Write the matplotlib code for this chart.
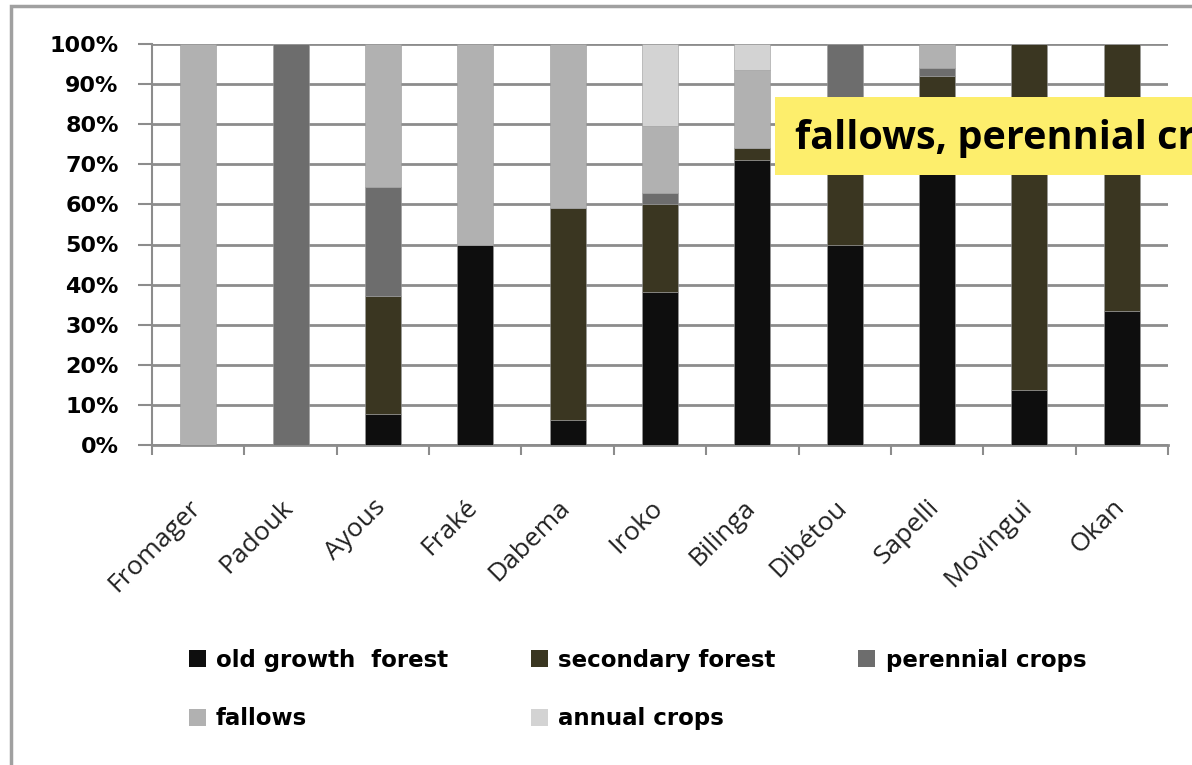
import numpy as np
import matplotlib
matplotlib.use("Agg")
import matplotlib.pyplot as plt
from matplotlib.patches import Rectangle
from matplotlib.transforms import ScaledTranslation

species = ["Fromager", "Padouk", "Ayous", "Fraké", "Dabema", "Iroko",
           "Bilinga", "Dibétou", "Sapelli", "Movingui", "Okan"]

# shares in % of each land-use type per species
old_growth = [0, 0, 7.7, 50, 6.2, 38.2, 71, 50, 86, 13.7, 33.3]
secondary = [0, 0, 29.5, 0, 52.8, 21.8, 3, 36, 6, 86.3, 66.7]
perennial = [0, 100, 27.2, 0, 0, 2.8, 0, 14, 2, 0, 0]
fallows = [100, 0, 35.6, 50, 41, 16.8, 19.4, 0, 6, 0, 0]
annual = [0, 0, 0, 0, 0, 20.4, 6.6, 0, 0, 0, 0]

series = [
    ("old growth  forest", old_growth, "#0e0e0e"),
    ("secondary forest", secondary, "#3a3621"),
    ("perennial crops", perennial, "#6d6d6d"),
    ("fallows", fallows, "#b1b1b1"),
    ("annual crops", annual, "#d3d3d3"),
]

fig = plt.figure(figsize=(11.92, 7.65), dpi=100)
fig.patches.append(Rectangle((11 / 1192, -0.1), 1.2, 1 - 6 / 765 + 0.1,
                             transform=fig.transFigure, fill=False,
                             edgecolor="#a0a0a0", linewidth=2.5))

ax = fig.add_axes([152 / 1192, 1 - 445 / 765, (1168 - 152) / 1192, 401 / 765])
x = np.arange(len(species))
bottom = np.zeros(len(species))
handles = []
for name, vals, col in series:
    vals = np.array(vals, dtype=float)
    b = ax.bar(x, vals, bottom=bottom, width=0.39, color=col, label=name,
               edgecolor="#9a9a9a", linewidth=0.4, zorder=3)
    handles.append(b)
    bottom += vals

ax.set_xlim(-0.5, len(species) - 0.5)
ax.set_ylim(0, 100)
ax.set_yticks(np.arange(0, 101, 10))
ax.set_yticklabels([f"{v}%" for v in range(0, 101, 10)],
                   fontsize=16, fontweight="heavy", family="DejaVu Sans")
ax.yaxis.grid(True, color="#8c8c8c", linewidth=2, zorder=0)
ax.set_axisbelow(True)

ax.set_xticks(x)
ax.set_xticklabels(species, rotation=45, ha="right", rotation_mode="anchor",
                   fontsize=19, family="Open Sans", color="#222222")
ax.tick_params(axis="x", length=0, pad=36)
shift = ScaledTranslation(-10 / 100, 0, fig.dpi_scale_trans)
for lbl in ax.get_xticklabels():
    lbl.set_transform(lbl.get_transform() + shift)
ax.set_xticks(np.arange(-0.5, len(species)), minor=True)
ax.tick_params(axis="x", which="minor", length=7, width=1.5, color="#8c8c8c")
ax.tick_params(axis="y", length=10, width=1.5, color="#8c8c8c", pad=14)

for s in ["top", "right"]:
    ax.spines[s].set_visible(False)
ax.spines["left"].set_color("#8c8c8c")
ax.spines["left"].set_linewidth(1.5)
ax.spines["bottom"].set_color("#8c8c8c")
ax.spines["bottom"].set_linewidth(2)

order = [0, 3, 1, 4, 2]
leg = fig.legend([handles[i] for i in order], [series[i][0] for i in order],
                 ncol=3, loc="upper left", bbox_to_anchor=(168 / 1192, 1 - 628 / 765),
                 frameon=False, handlelength=0.75, handleheight=0.75,
                 handletextpad=0.45, columnspacing=3.6, labelspacing=1.55,
                 prop={"size": 16.5, "weight": "bold", "family": "DejaVu Sans"})
for h in leg.legend_handles:
    h.set_edgecolor("none")

# yellow callout, cut off by the right edge like in the original
fig.patches.append(Rectangle((775 / 1192, 1 - 175 / 765), 0.5, 78 / 765,
                             transform=fig.transFigure, facecolor="#fdee6c",
                             edgecolor="none", zorder=5))
fig.text(795 / 1192, 1 - 138 / 765, "fallows, perennial crops",
         fontsize=28.5, fontweight="bold", family="Open Sans", va="center",
         ha="left", zorder=6)

fig.savefig("out.png", dpi=100)
